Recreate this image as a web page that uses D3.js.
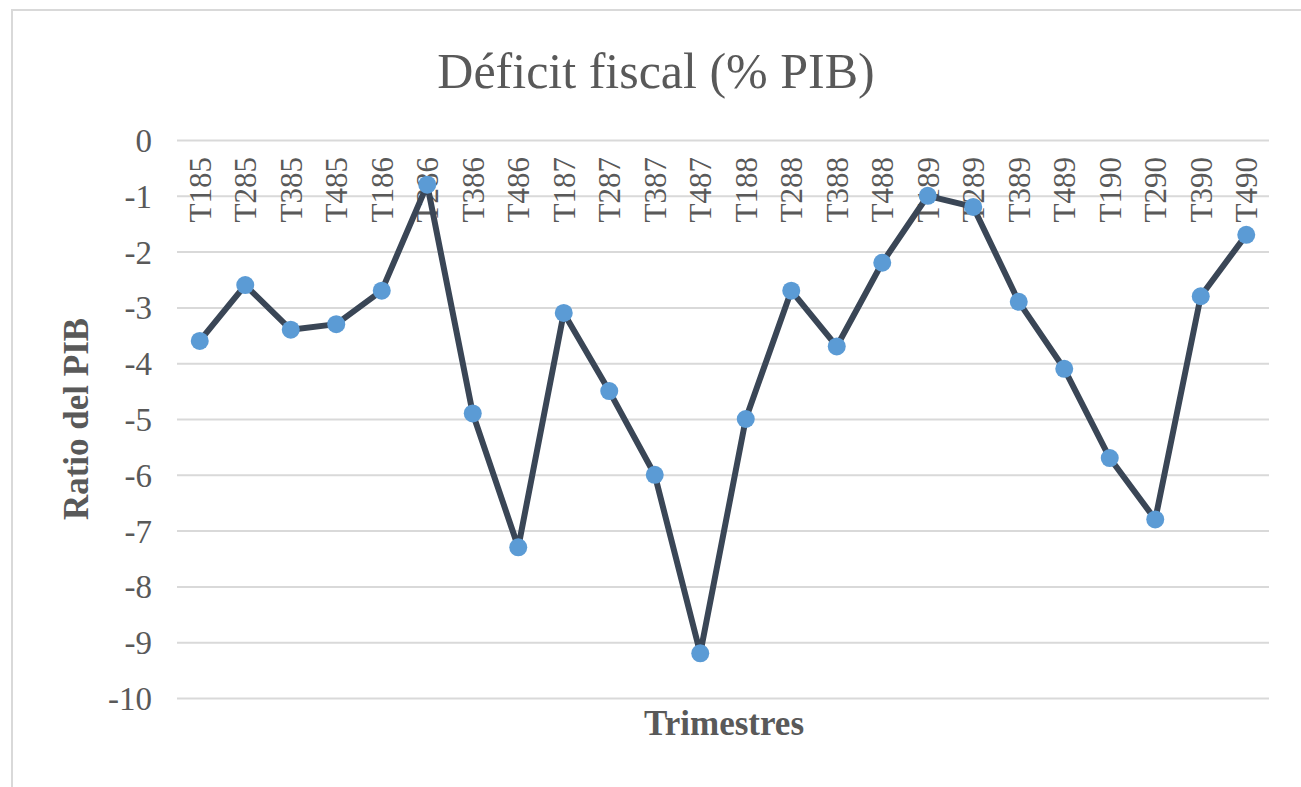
<!DOCTYPE html>
<html>
<head>
<meta charset="utf-8">
<script src="https://cdn.jsdelivr.net/npm/d3@7"></script>
<style>
  body { margin: 0; background: #fff; }
  svg text { font-family: "Liberation Serif", "DejaVu Serif", serif; }
</style>
</head>
<body>
<div class="chart"></div>
<script>
// quarters, "T185" = first quarter of 1985
const quarters = ['T185', 'T285', 'T385', 'T485', 'T186', 'T286', 'T386', 'T486',
  'T187', 'T287', 'T387', 'T487', 'T188', 'T288', 'T388', 'T488',
  'T189', 'T289', 'T389', 'T489', 'T190', 'T290', 'T390', 'T490']
// fiscal deficit, % of GDP
const deficit = [-3.6, -2.6, -3.4, -3.3, -2.7, -0.8, -4.9, -7.3,
  -3.1, -4.5, -6.0, -9.2, -5.0, -2.7, -3.7, -2.2,
  -1.0, -1.2, -2.9, -4.1, -5.7, -6.8, -2.8, -1.7]
const yTicks = [0, -1, -2, -3, -4, -5, -6, -7, -8, -9, -10]

const width = 1301, height = 787
const margin = {top: 140, right: 32, bottom: 89, left: 177}

const svg = d3.select('.chart')
  .append('svg')
    .attr('width', width)
    .attr('height', height)

// chart area frame
svg.append('rect')
  .attr('x', 12).attr('y', 10)
  .attr('width', width).attr('height', height)
  .attr('fill', 'none')
  .attr('stroke', '#d9d9d9')
  .attr('stroke-width', 2)

const x = d3.scaleBand()
  .domain(quarters)
  .range([margin.left, width - margin.right])

const y = d3.scaleLinear()
  .domain([-10, 0])
  .range([height - margin.bottom, margin.top])

// gridlines + y labels (plain hyphen, like Excel)
const yAxis = svg.append('g')
  .attr('transform', 'translate(' + margin.left + ',0)')
  .call(d3.axisLeft(y).tickValues(yTicks).tickFormat((d) => String(d))
    .tickSize(-(width - margin.left - margin.right)).tickPadding(25))
yAxis.select('.domain').remove()
yAxis.selectAll('line').attr('stroke', '#d9d9d9').attr('stroke-width', 2)
yAxis.selectAll('text')
  .attr('fill', '#595959')
  .style('font-size', '33px')
  .attr('dy', '0.35em')

// category labels hanging under the zero line
const xAxis = svg.append('g')
  .attr('transform', 'translate(0,' + y(0) + ')')
  .call(d3.axisBottom(x).tickSize(0))
xAxis.select('.domain').remove()
xAxis.selectAll('text')
  .attr('fill', '#595959')
  .style('font-size', '31px')
  .attr('text-anchor', 'end')
  .attr('transform', 'rotate(-90)')
  .attr('x', -17)
  .attr('y', 0)
  .attr('dy', '0.35em')

const cx = (d, i) => x(quarters[i]) + x.bandwidth() / 2

const line = d3.line()
  .x((d, i) => cx(d, i))
  .y((d) => y(d))

svg.append('path')
  .datum(deficit)
  .attr('d', line)
  .attr('fill', 'none')
  .attr('stroke', '#3a4656')
  .attr('stroke-width', 6)
  .attr('stroke-linejoin', 'round')

svg.selectAll('circle.pt')
  .data(deficit)
  .enter()
  .append('circle')
    .attr('class', 'pt')
    .attr('cx', cx)
    .attr('cy', (d) => y(d))
    .attr('r', 9)
    .attr('fill', '#5b9bd5')

// titles
svg.append('text')
  .attr('x', 656).attr('y', 88)
  .attr('text-anchor', 'middle')
  .attr('fill', '#595959')
  .style('font-size', '50px')
  .text('Déficit fiscal (% PIB)')

svg.append('text')
  .attr('x', 724).attr('y', 735)
  .attr('text-anchor', 'middle')
  .attr('fill', '#595959')
  .style('font-size', '35px')
  .style('font-weight', 'bold')
  .text('Trimestres')

svg.append('text')
  .attr('transform', 'translate(88,' + y(-5) + ') rotate(-90)')
  .attr('text-anchor', 'middle')
  .attr('fill', '#595959')
  .style('font-size', '35px')
  .style('font-weight', 'bold')
  .text('Ratio del PIB')
</script>
</body>
</html>
